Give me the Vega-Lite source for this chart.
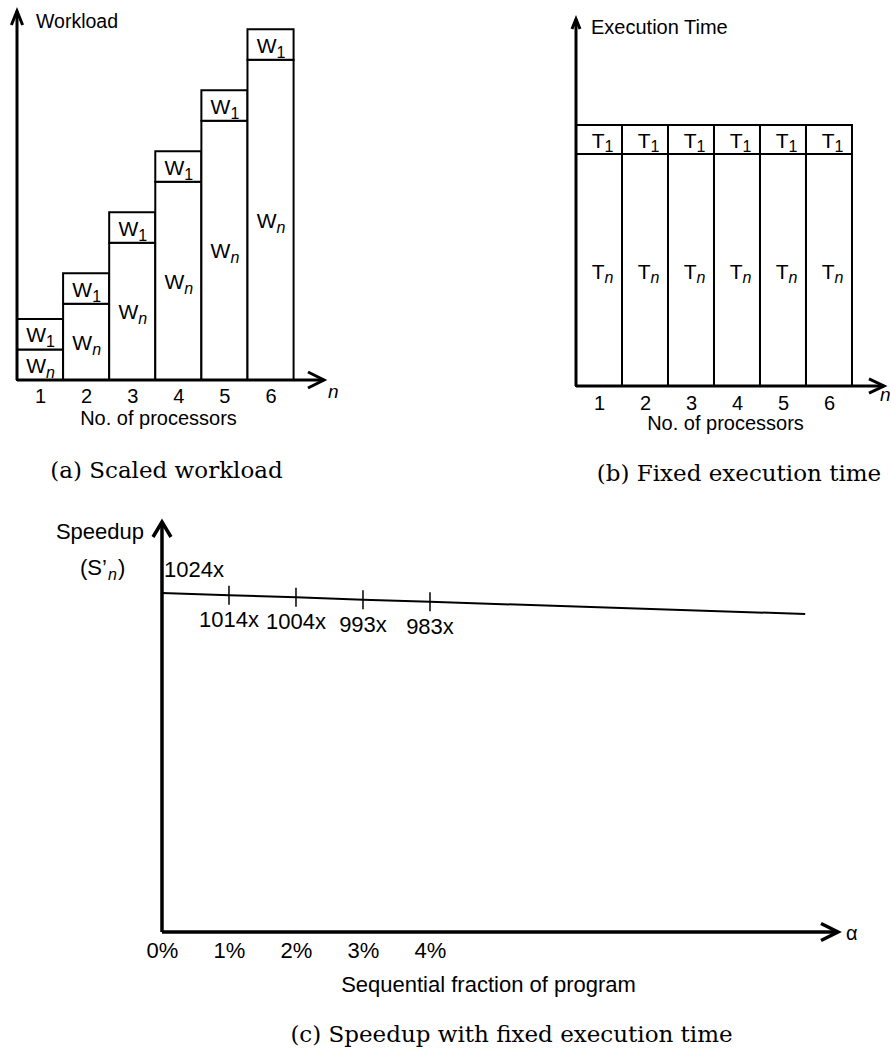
{
  "$schema": "https://vega.github.io/schema/vega-lite/v6.json",
  "background": "white",
  "padding": {"left": 5, "top": 5, "right": 0, "bottom": 0},
  "spacing": 29,
  "config": {
    "view": {"stroke": null},
    "axis": {"labelColor": "black", "titleColor": "black", "labelFont": "Liberation Sans", "titleFont": "Liberation Sans", "titleFontWeight": "normal", "grid": false, "domain": false, "ticks": false, "labelFlush": false},
    "text": {"font": "Liberation Sans", "color": "black", "baseline": "alphabetic"},
    "title": {"font": "DejaVu Serif", "fontSize": 23, "fontWeight": "normal", "color": "black", "frame": "group", "anchor": "middle"}
  },
  "vconcat": [
    {
      "hconcat": [
        {
          "width": 307,
          "height": 369,
          "title": {"text": "(a) Scaled workload", "orient": "bottom", "offset": 32, "dx": -4},
          "data": {"values": [
            {"n": 1, "part": "Wn", "sym": "W", "sub": "n", "lo": 0, "hi": 1},
            {"n": 1, "part": "W1", "sym": "W", "sub": "1", "lo": 1, "hi": 2},
            {"n": 2, "part": "Wn", "sym": "W", "sub": "n", "lo": 0, "hi": 2.5},
            {"n": 2, "part": "W1", "sym": "W", "sub": "1", "lo": 2.5, "hi": 3.5},
            {"n": 3, "part": "Wn", "sym": "W", "sub": "n", "lo": 0, "hi": 4.5},
            {"n": 3, "part": "W1", "sym": "W", "sub": "1", "lo": 4.5, "hi": 5.5},
            {"n": 4, "part": "Wn", "sym": "W", "sub": "n", "lo": 0, "hi": 6.5},
            {"n": 4, "part": "W1", "sym": "W", "sub": "1", "lo": 6.5, "hi": 7.5},
            {"n": 5, "part": "Wn", "sym": "W", "sub": "n", "lo": 0, "hi": 8.5},
            {"n": 5, "part": "W1", "sym": "W", "sub": "1", "lo": 8.5, "hi": 9.5},
            {"n": 6, "part": "Wn", "sym": "W", "sub": "n", "lo": 0, "hi": 10.5},
            {"n": 6, "part": "W1", "sym": "W", "sub": "1", "lo": 10.5, "hi": 11.5}
          ]},
          "layer": [
            {
              "mark": {"type": "bar", "width": 46.1, "fill": "white", "stroke": "black", "strokeWidth": 2},
              "encoding": {
                "x": {"field": "n", "type": "quantitative", "scale": {"domain": [0.5, 7.16], "nice": false, "zero": false, "padding": 0},
                      "axis": {"values": [1, 2, 3, 4, 5, 6], "format": "d", "labelFontSize": 20, "labelPadding": 6, "title": "No. of processors", "titleFontSize": 20, "titlePadding": 2, "titleX": 141}},
                "y": {"field": "lo", "type": "quantitative", "scale": {"domain": [0, 12.1], "nice": false, "zero": false}, "axis": null},
                "y2": {"field": "hi"}
              }
            },
            {
              "transform": [{"fold": ["lo", "hi"], "as": ["edge", "v"]}],
              "encoding": {
                "x": {"field": "n", "type": "quantitative", "scale": {"domain": [0.5, 7.16], "nice": false, "zero": false, "padding": 0}},
                "y": {"aggregate": "mean", "field": "v", "type": "quantitative", "scale": {"domain": [0, 12.1], "nice": false, "zero": false}, "axis": null},
                "detail": {"field": "part"}
              },
              "layer": [
                {"mark": {"type": "text", "align": "right", "dx": 6, "dy": 8, "fontSize": 21}, "encoding": {"text": {"field": "sym"}}},
                {"transform": [{"filter": {"field": "part", "equal": "W1"}}], "mark": {"type": "text", "align": "left", "dx": 6, "dy": 13, "fontSize": 16}, "encoding": {"text": {"field": "sub"}}},
                {"transform": [{"filter": {"field": "part", "equal": "Wn"}}], "mark": {"type": "text", "align": "left", "dx": 6, "dy": 13, "fontSize": 16, "fontStyle": "italic"}, "encoding": {"text": {"field": "sub"}}}
              ]
            },
            {
              "data": {"values": [{}]},
              "mark": {"type": "rule", "strokeWidth": 3, "color": "black"},
              "encoding": {
                "x": {"datum": 0.5, "scale": {"domain": [0.5, 7.16], "nice": false, "zero": false, "padding": 0}},
                "x2": {"datum": 7.16},
                "y": {"datum": 0, "scale": {"domain": [0, 12.1], "nice": false, "zero": false}, "axis": null}
              }
            },
            {
              "data": {"values": [{}]},
              "mark": {"type": "rule", "strokeWidth": 3, "color": "black"},
              "encoding": {
                "x": {"datum": 0.5, "scale": {"domain": [0.5, 7.16], "nice": false, "zero": false, "padding": 0}},
                "y": {"datum": 0, "scale": {"domain": [0, 12.1], "nice": false, "zero": false}, "axis": null},
                "y2": {"datum": 12.1}
              }
            },
            {
              "data": {"values": [{}]},
              "mark": {"type": "point", "shape": "M -1 -0.5 L 0 0 L -1 0.5", "size": 1024, "filled": false, "color": "black", "stroke": "black", "strokeWidth": 3, "opacity": 1, "strokeJoin": "miter"},
              "encoding": {
                "x": {"datum": 7.16, "scale": {"domain": [0.5, 7.16], "nice": false, "zero": false, "padding": 0}},
                "y": {"datum": 0, "scale": {"domain": [0, 12.1], "nice": false, "zero": false}, "axis": null}
              }
            },
            {
              "data": {"values": [{}]},
              "mark": {"type": "point", "shape": "M -0.4 1 L 0 0 L 0.4 1", "size": 784, "filled": false, "color": "black", "stroke": "black", "strokeWidth": 3, "opacity": 1, "strokeJoin": "miter"},
              "encoding": {
                "x": {"datum": 0.5, "scale": {"domain": [0.5, 7.16], "nice": false, "zero": false, "padding": 0}},
                "y": {"datum": 12.1, "scale": {"domain": [0, 12.1], "nice": false, "zero": false}, "axis": null}
              }
            },
            {
              "data": {"values": [{}]},
              "mark": {"type": "text", "text": "Workload", "align": "left", "dx": 19, "dy": 17, "fontSize": 19.5},
              "encoding": {
                "x": {"datum": 0.5, "scale": {"domain": [0.5, 7.16], "nice": false, "zero": false, "padding": 0}},
                "y": {"datum": 12.1, "scale": {"domain": [0, 12.1], "nice": false, "zero": false}, "axis": null}
              }
            },
            {
              "data": {"values": [{}]},
              "mark": {"type": "text", "text": "n", "fontStyle": "italic", "align": "left", "dx": 4, "dy": 18, "fontSize": 19},
              "encoding": {
                "x": {"datum": 7.16, "scale": {"domain": [0.5, 7.16], "nice": false, "zero": false, "padding": 0}},
                "y": {"datum": 0, "scale": {"domain": [0, 12.1], "nice": false, "zero": false}, "axis": null}
              }
            }
          ]
        },
        {
          "width": 308,
          "height": 375,
          "title": {"text": "(b) Fixed execution time", "orient": "bottom", "offset": 30, "dx": 9},
          "data": {"values": [
            {"n": 1, "part": "Tn", "sym": "T", "sub": "n", "lo": 0, "hi": 8},
            {"n": 1, "part": "T1", "sym": "T", "sub": "1", "lo": 8, "hi": 9},
            {"n": 2, "part": "Tn", "sym": "T", "sub": "n", "lo": 0, "hi": 8},
            {"n": 2, "part": "T1", "sym": "T", "sub": "1", "lo": 8, "hi": 9},
            {"n": 3, "part": "Tn", "sym": "T", "sub": "n", "lo": 0, "hi": 8},
            {"n": 3, "part": "T1", "sym": "T", "sub": "1", "lo": 8, "hi": 9},
            {"n": 4, "part": "Tn", "sym": "T", "sub": "n", "lo": 0, "hi": 8},
            {"n": 4, "part": "T1", "sym": "T", "sub": "1", "lo": 8, "hi": 9},
            {"n": 5, "part": "Tn", "sym": "T", "sub": "n", "lo": 0, "hi": 8},
            {"n": 5, "part": "T1", "sym": "T", "sub": "1", "lo": 8, "hi": 9},
            {"n": 6, "part": "Tn", "sym": "T", "sub": "n", "lo": 0, "hi": 8},
            {"n": 6, "part": "T1", "sym": "T", "sub": "1", "lo": 8, "hi": 9}
          ]},
          "layer": [
            {
              "mark": {"type": "bar", "width": 46, "fill": "white", "stroke": "black", "strokeWidth": 2},
              "encoding": {
                "x": {"field": "n", "type": "quantitative", "scale": {"domain": [0.5, 7.196], "nice": false, "zero": false, "padding": 0},
                      "axis": {"values": [1, 2, 3, 4, 5, 6], "format": "d", "labelFontSize": 20, "labelPadding": 7, "title": "No. of processors", "titleFontSize": 20, "titlePadding": 0, "titleX": 149}},
                "y": {"field": "lo", "type": "quantitative", "scale": {"domain": [0, 12.931], "nice": false, "zero": false}, "axis": null},
                "y2": {"field": "hi"}
              }
            },
            {
              "transform": [{"fold": ["lo", "hi"], "as": ["edge", "v"]}],
              "encoding": {
                "x": {"field": "n", "type": "quantitative", "scale": {"domain": [0.5, 7.196], "nice": false, "zero": false, "padding": 0}},
                "y": {"aggregate": "mean", "field": "v", "type": "quantitative", "scale": {"domain": [0, 12.931], "nice": false, "zero": false}, "axis": null},
                "detail": {"field": "part"}
              },
              "layer": [
                {"mark": {"type": "text", "align": "right", "dx": 5.5, "dy": 9, "fontSize": 21}, "encoding": {"text": {"field": "sym"}}},
                {"transform": [{"filter": {"field": "part", "equal": "T1"}}], "mark": {"type": "text", "align": "left", "dx": 5.5, "dy": 13, "fontSize": 16}, "encoding": {"text": {"field": "sub"}}},
                {"transform": [{"filter": {"field": "part", "equal": "Tn"}}], "mark": {"type": "text", "align": "left", "dx": 5.5, "dy": 13, "fontSize": 16, "fontStyle": "italic"}, "encoding": {"text": {"field": "sub"}}}
              ]
            },
            {
              "data": {"values": [{}]},
              "mark": {"type": "rule", "strokeWidth": 3, "color": "black"},
              "encoding": {
                "x": {"datum": 0.5, "scale": {"domain": [0.5, 7.196], "nice": false, "zero": false, "padding": 0}},
                "x2": {"datum": 7.196},
                "y": {"datum": 0, "scale": {"domain": [0, 12.931], "nice": false, "zero": false}, "axis": null}
              }
            },
            {
              "data": {"values": [{}]},
              "mark": {"type": "rule", "strokeWidth": 3, "color": "black"},
              "encoding": {
                "x": {"datum": 0.5, "scale": {"domain": [0.5, 7.196], "nice": false, "zero": false, "padding": 0}},
                "y": {"datum": 0, "scale": {"domain": [0, 12.931], "nice": false, "zero": false}, "axis": null},
                "y2": {"datum": 12.655}
              }
            },
            {
              "data": {"values": [{}]},
              "mark": {"type": "point", "shape": "M -1 -0.47 L 0 0 L -1 0.47", "size": 900, "filled": false, "color": "black", "stroke": "black", "strokeWidth": 3, "opacity": 1, "strokeJoin": "miter"},
              "encoding": {
                "x": {"datum": 7.196, "scale": {"domain": [0.5, 7.196], "nice": false, "zero": false, "padding": 0}},
                "y": {"datum": 0, "scale": {"domain": [0, 12.931], "nice": false, "zero": false}, "axis": null}
              }
            },
            {
              "data": {"values": [{}]},
              "mark": {"type": "point", "shape": "M -0.4 1 L 0 0 L 0.4 1", "size": 400, "filled": false, "color": "black", "stroke": "black", "strokeWidth": 3, "opacity": 1, "strokeJoin": "miter"},
              "encoding": {
                "x": {"datum": 0.5, "scale": {"domain": [0.5, 7.196], "nice": false, "zero": false, "padding": 0}},
                "y": {"datum": 12.655, "scale": {"domain": [0, 12.931], "nice": false, "zero": false}, "axis": null}
              }
            },
            {
              "data": {"values": [{}]},
              "mark": {"type": "text", "text": "Execution Time", "align": "left", "dx": 15, "dy": 15, "fontSize": 20},
              "encoding": {
                "x": {"datum": 0.5, "scale": {"domain": [0.5, 7.196], "nice": false, "zero": false, "padding": 0}},
                "y": {"datum": 12.655, "scale": {"domain": [0, 12.931], "nice": false, "zero": false}, "axis": null}
              }
            },
            {
              "data": {"values": [{}]},
              "mark": {"type": "text", "text": "n", "fontStyle": "italic", "align": "left", "dx": -4, "dy": 15, "fontSize": 19},
              "encoding": {
                "x": {"datum": 7.196, "scale": {"domain": [0.5, 7.196], "nice": false, "zero": false, "padding": 0}},
                "y": {"datum": 0, "scale": {"domain": [0, 12.931], "nice": false, "zero": false}, "axis": null}
              }
            }
          ]
        }
      ],
      "spacing": 252,
      "bounds": "flush"
    },
    {
      "width": 829,
      "height": 410,
      "title": {"text": "(c) Speedup with fixed execution time", "orient": "bottom", "offset": 29, "dx": 80},
      "data": {"values": [
        {"alpha": 0, "S": 1024, "label": "1024x"},
        {"alpha": 1, "S": 1014, "label": "1014x"},
        {"alpha": 2, "S": 1004, "label": "1004x"},
        {"alpha": 3, "S": 993, "label": "993x"},
        {"alpha": 4, "S": 983, "label": "983x"},
        {"alpha": 9.6, "S": 926, "label": ""}
      ]},
      "layer": [
        {
          "mark": {"type": "line", "color": "black", "strokeWidth": 2},
          "encoding": {
            "x": {"field": "alpha", "type": "quantitative", "scale": {"domain": [-2.164, 10.209], "nice": false, "zero": false},
                  "axis": {"values": [0, 1, 2, 3, 4], "labelExpr": "datum.value + '%'", "labelFontSize": 22, "labelPadding": 8, "title": "Sequential fraction of program", "titleFontSize": 22, "titlePadding": 13, "titleX": 471}},
            "y": {"field": "S", "type": "quantitative", "scale": {"domain": [-560, 1356], "nice": false, "zero": false}, "axis": null}
          }
        },
        {
          "data": {"values": [{}]},
          "mark": {"type": "rule", "strokeWidth": 3.5, "color": "black"},
          "encoding": {
            "x": {"datum": 0, "scale": {"domain": [-2.164, 10.209], "nice": false, "zero": false}},
            "y": {"datum": -560, "scale": {"domain": [-560, 1356], "nice": false, "zero": false}, "axis": null},
            "y2": {"datum": 1356}
          }
        },
        {
          "data": {"values": [{}]},
          "mark": {"type": "rule", "strokeWidth": 3.5, "color": "black"},
          "encoding": {
            "x": {"datum": 0, "scale": {"domain": [-2.164, 10.209], "nice": false, "zero": false}},
            "x2": {"datum": 10.09},
            "y": {"datum": -560, "scale": {"domain": [-560, 1356], "nice": false, "zero": false}, "axis": null}
          }
        },
        {
          "transform": [{"filter": {"field": "alpha", "range": [1, 4]}}],
          "mark": {"type": "tick", "orient": "vertical", "size": 19, "thickness": 1.5, "color": "black", "opacity": 1},
          "encoding": {
            "x": {"field": "alpha", "type": "quantitative", "scale": {"domain": [-2.164, 10.209], "nice": false, "zero": false}},
            "y": {"field": "S", "type": "quantitative", "scale": {"domain": [-560, 1356], "nice": false, "zero": false}, "axis": null}
          }
        },
        {
          "transform": [{"filter": {"field": "alpha", "range": [1, 4]}}],
          "mark": {"type": "text", "dy": 32, "fontSize": 22},
          "encoding": {
            "x": {"field": "alpha", "type": "quantitative", "scale": {"domain": [-2.164, 10.209], "nice": false, "zero": false}},
            "y": {"field": "S", "type": "quantitative", "scale": {"domain": [-560, 1356], "nice": false, "zero": false}, "axis": null},
            "text": {"field": "label"}
          }
        },
        {
          "transform": [{"filter": {"field": "alpha", "equal": 0}}],
          "mark": {"type": "text", "align": "left", "dx": 2, "dy": -16, "fontSize": 22},
          "encoding": {
            "x": {"field": "alpha", "type": "quantitative", "scale": {"domain": [-2.164, 10.209], "nice": false, "zero": false}},
            "y": {"field": "S", "type": "quantitative", "scale": {"domain": [-560, 1356], "nice": false, "zero": false}, "axis": null},
            "text": {"field": "label"}
          }
        },
        {
          "data": {"values": [{}]},
          "mark": {"type": "point", "shape": "M -0.6 1 L 0 0 L 0.6 1", "size": 900, "filled": false, "color": "black", "stroke": "black", "strokeWidth": 3.5, "opacity": 1, "strokeJoin": "miter"},
          "encoding": {
            "x": {"datum": 0, "scale": {"domain": [-2.164, 10.209], "nice": false, "zero": false}},
            "y": {"datum": 1356, "scale": {"domain": [-560, 1356], "nice": false, "zero": false}, "axis": null}
          }
        },
        {
          "data": {"values": [{}]},
          "mark": {"type": "point", "shape": "M -1 -0.5 L 0 0 L -1 0.5", "size": 1156, "filled": false, "color": "black", "stroke": "black", "strokeWidth": 3.5, "opacity": 1, "strokeJoin": "miter"},
          "encoding": {
            "x": {"datum": 10.09, "scale": {"domain": [-2.164, 10.209], "nice": false, "zero": false}},
            "y": {"datum": -560, "scale": {"domain": [-560, 1356], "nice": false, "zero": false}, "axis": null}
          }
        },
        {
          "data": {"values": [{}]},
          "mark": {"type": "text", "text": "Speedup", "align": "right", "dx": -18, "dy": 17, "fontSize": 22},
          "encoding": {
            "x": {"datum": 0, "scale": {"domain": [-2.164, 10.209], "nice": false, "zero": false}},
            "y": {"datum": 1356, "scale": {"domain": [-560, 1356], "nice": false, "zero": false}, "axis": null}
          }
        },
        {
          "data": {"values": [{}]},
          "mark": {"type": "text", "text": "(S’", "align": "left", "dx": -82, "dy": 53, "fontSize": 22},
          "encoding": {
            "x": {"datum": 0, "scale": {"domain": [-2.164, 10.209], "nice": false, "zero": false}},
            "y": {"datum": 1356, "scale": {"domain": [-560, 1356], "nice": false, "zero": false}, "axis": null}
          }
        },
        {
          "data": {"values": [{}]},
          "mark": {"type": "text", "text": "n", "fontStyle": "italic", "align": "left", "dx": -54, "dy": 58, "fontSize": 16},
          "encoding": {
            "x": {"datum": 0, "scale": {"domain": [-2.164, 10.209], "nice": false, "zero": false}},
            "y": {"datum": 1356, "scale": {"domain": [-560, 1356], "nice": false, "zero": false}, "axis": null}
          }
        },
        {
          "data": {"values": [{}]},
          "mark": {"type": "text", "text": ")", "align": "left", "dx": -44, "dy": 53, "fontSize": 22},
          "encoding": {
            "x": {"datum": 0, "scale": {"domain": [-2.164, 10.209], "nice": false, "zero": false}},
            "y": {"datum": 1356, "scale": {"domain": [-560, 1356], "nice": false, "zero": false}, "axis": null}
          }
        },
        {
          "data": {"values": [{}]},
          "mark": {"type": "text", "text": "α", "align": "left", "dx": 8, "dy": 8, "fontSize": 20},
          "encoding": {
            "x": {"datum": 10.09, "scale": {"domain": [-2.164, 10.209], "nice": false, "zero": false}},
            "y": {"datum": -560, "scale": {"domain": [-560, 1356], "nice": false, "zero": false}, "axis": null}
          }
        }
      ]
    }
  ]
}
